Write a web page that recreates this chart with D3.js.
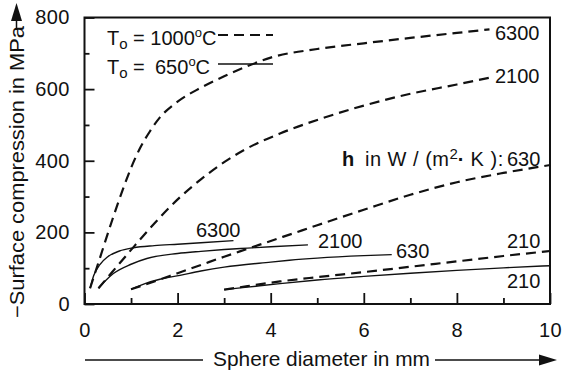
<!DOCTYPE html>
<html>
<head>
<meta charset="utf-8">
<script src="https://cdn.jsdelivr.net/npm/d3@7"></script>
<style>
  body { margin: 0; background: #fff; }
  text { font-family: "Liberation Sans", Arial, sans-serif; fill: #111; }
</style>
</head>
<body>
<svg id="chart" width="563" height="371"></svg>
<script>
// curves: [diameter in mm, compression in MPa]
const dashed_6300 = [[0.12,44],[0.33,128],[0.6,236],[0.83,322],[1.0,380],[1.2,437],[1.4,481],[1.62,521],[2.0,565],[2.5,604],[3.0,636],[3.5,664],[4.0,688],[5,712],[6,728],[7,743],[8,757],[8.7,767]]
const dashed_2100 = [[0.3,44],[0.6,90],[1.08,163],[1.5,225],[2.05,298],[2.5,348],[3.0,396],[3.4,428],[4.2,476],[5,514],[6,554],[7,587],[8,613],[8.7,632]]
const dashed_630 = [[1.0,41],[1.5,63],[2.0,86],[2.5,109],[3.0,132],[3.5,154],[4.0,176],[4.5,198],[5,220],[6,263],[7,305],[8,340],[9,366],[10,388]]
const dashed_210 = [[3.0,40],[3.5,50],[4.2,63],[5,75],[6,89],[7,104],[8,119],[9,134],[10,148]]

const solid_6300 = [[0.12,44],[0.2,80],[0.33,110],[0.5,132],[0.75,148],[1.05,157],[1.5,163],[2.0,167],[2.5,171],[3.2,177]]
const solid_2100 = [[0.3,44],[0.45,65],[0.62,85],[1.0,111],[1.34,127],[2.0,141],[2.5,147],[3.0,152],[3.5,156],[4.0,160],[4.8,165]]
const solid_630 = [[1.0,41],[1.3,57],[1.62,69],[2.05,80],[2.5,92],[3.0,103],[4.0,117],[4.4,122],[5,128],[6,135],[6.6,138]]
const solid_210 = [[3.0,40],[3.5,47],[4.2,57],[5,67],[6,77],[7,86],[8,94],[9,101],[10,107]]

const x_ticks = [0, 2, 4, 6, 8, 10]
const x_minor = [1, 3, 5, 7, 9]
const y_ticks = [0, 200, 400, 600, 800]
const y_minor = [100, 300, 500, 700]

var margin = {top: 17.5, right: 13, bottom: 67, left: 84.5},
  width = 563 - margin.left - margin.right,
  height = 371 - margin.top - margin.bottom;

var svg = d3.select("#chart")
var g = svg.append("g")
  .attr("transform", "translate(" + margin.left + "," + margin.top + ")");

var x = d3.scaleLinear().domain([0, 10]).range([0, width]);
var y = d3.scaleLinear().domain([0, 800]).range([height, 0]);

// minor ticks first (no labels)
g.append("g")
  .attr("transform", "translate(0," + height + ")")
  .call(d3.axisBottom(x).tickValues(x_minor).tickSize(-6).tickFormat(""))
g.append("g")
  .call(d3.axisLeft(y).tickValues(y_minor).tickSize(-5).tickFormat(""))

// major ticks
g.append("g")
  .attr("class", "xAxis")
  .attr("transform", "translate(0," + height + ")")
  .call(d3.axisBottom(x).tickValues(x_ticks).tickSize(-11).tickPadding(19))
g.append("g")
  .attr("class", "yAxis")
  .call(d3.axisLeft(y).tickValues(y_ticks).tickSize(-10).tickPadding(14.5))

g.selectAll(".domain").remove()
g.selectAll(".tick line").attr("stroke", "#111").attr("stroke-width", 1.8)
g.selectAll(".tick text")
  .attr("font-size", "20px")
  .attr("letter-spacing", "0.5px")
  .attr("fill", "#111")
  .attr("font-family", "Liberation Sans, Arial, sans-serif")

// frame
g.append("rect")
  .attr("width", width).attr("height", height)
  .attr("fill", "none").attr("stroke", "#111").attr("stroke-width", 2)

var line = d3.line()
  .x(d => x(d[0]))
  .y(d => y(d[1]))
  .curve(d3.curveMonotoneX)

// dashed: T0 = 1000 C, solid: T0 = 650 C
g.selectAll(".dashed")
  .data([dashed_6300, dashed_2100, dashed_630, dashed_210])
  .enter().append("path")
  .attr("d", line)
  .attr("fill", "none")
  .attr("stroke", "#111")
  .attr("stroke-width", 2.2)
  .attr("stroke-dasharray", "10,6")

g.selectAll(".solid")
  .data([solid_6300, solid_2100, solid_630, solid_210])
  .enter().append("path")
  .attr("d", line)
  .attr("fill", "none")
  .attr("stroke", "#111")
  .attr("stroke-width", 1.4)

// curve labels
var curve_labels = [
  {t: "6300", x: 495, y: 40},
  {t: "2100", x: 495, y: 83},
  {t: "6300", x: 196, y: 237},
  {t: "2100", x: 318, y: 248},
  {t: "630", x: 396, y: 258},
  {t: "210", x: 507, y: 248},
  {t: "210", x: 507, y: 288}
]
svg.selectAll(".clab")
  .data(curve_labels)
  .enter().append("text")
  .text(d => d.t)
  .attr("x", d => d.x)
  .attr("y", d => d.y)
  .attr("font-size", "20px")

// legend
var leg1 = svg.append("text").attr("x", 107).attr("y", 45).attr("font-size", "20px")
leg1.append("tspan").text("T")
leg1.append("tspan").text("o").attr("font-size", "15px").attr("dy", 4)
leg1.append("tspan").text(" = 1000").attr("dy", -4)
leg1.append("tspan").text("o").attr("font-size", "13px").attr("dy", -8)
leg1.append("tspan").text("C").attr("dy", 8)

var leg2 = svg.append("text").attr("x", 107).attr("y", 74).attr("font-size", "20px")
leg2.append("tspan").text("T")
leg2.append("tspan").text("o").attr("font-size", "15px").attr("dy", 4)
leg2.append("tspan").text(" =").attr("dy", -4)
leg2.append("tspan").text("650").attr("x", 155)
leg2.append("tspan").text("o").attr("font-size", "13px").attr("dy", -8)
leg2.append("tspan").text("C").attr("dy", 8)

svg.append("line")
  .attr("x1", 218).attr("x2", 273).attr("y1", 35).attr("y2", 35)
  .attr("stroke", "#111").attr("stroke-width", 2.2).attr("stroke-dasharray", "10,6")
svg.append("line")
  .attr("x1", 218).attr("x2", 273).attr("y1", 64).attr("y2", 64)
  .attr("stroke", "#111").attr("stroke-width", 1.4)

// h label
var hl = svg.append("text").attr("x", 342).attr("y", 166).attr("font-size", "20px")
hl.append("tspan").text("h").attr("font-weight", "bold")
hl.append("tspan").text("in W / (m").attr("x", 365).attr("letter-spacing", "0.5px")
hl.append("tspan").text("2").attr("font-size", "15px").attr("dy", -7)
hl.append("tspan").text("·").attr("dy", 7).attr("font-weight", "bold")
hl.append("tspan").text(" K ):").attr("letter-spacing", "0.5px")
hl.append("tspan").text("630").attr("x", 507)

// axis titles with arrows
svg.append("text")
  .attr("transform", "translate(24,318) rotate(-90)")
  .attr("font-size", "20px")
  .attr("textLength", 292)
  .attr("lengthAdjust", "spacingAndGlyphs")
  .text("\u2212Surface compression  in MPa")
svg.append("line")
  .attr("x1", 16.5).attr("x2", 16.5).attr("y1", 30).attr("y2", 16)
  .attr("stroke", "#111").attr("stroke-width", 1.5)
svg.append("path")
  .attr("d", "M16.5,3 L22,21 L11,21 Z")
  .attr("fill", "#111")

svg.append("text")
  .attr("x", 213).attr("y", 366)
  .attr("font-size", "21px")
  .attr("textLength", 217)
  .attr("lengthAdjust", "spacingAndGlyphs")
  .text("Sphere diameter  in mm")
svg.append("line")
  .attr("x1", 85).attr("x2", 203).attr("y1", 360).attr("y2", 360)
  .attr("stroke", "#111").attr("stroke-width", 1.5)
svg.append("line")
  .attr("x1", 435).attr("x2", 545).attr("y1", 360).attr("y2", 360)
  .attr("stroke", "#111").attr("stroke-width", 1.5)
svg.append("path")
  .attr("d", "M557,360 L539,354.5 L539,365.5 Z")
  .attr("fill", "#111")
</script>
</body>
</html>
